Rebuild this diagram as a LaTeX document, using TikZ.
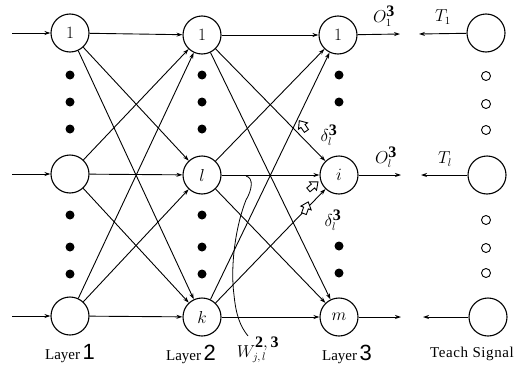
\documentclass[tikz,border=0pt]{standalone}
\usepackage{fontspec}
\setmainfont{Liberation Serif}
\newfontfamily\digitfont{Liberation Sans}
\usetikzlibrary{arrows.meta}
\begin{document}
\begin{tikzpicture}[x=1pt,y=-1pt,
  neuron/.style={draw,circle,line width=1.1pt,minimum size=38pt,inner sep=0pt,font=\fontsize{18}{18}\selectfont},
  conn/.style={line width=0.9pt,-{Stealth[length=6pt,width=4pt]}},
  fdot/.style={fill=black,circle,inner sep=0pt,minimum size=9pt},
  hdot/.style={draw,circle,line width=0.9pt,inner sep=0pt,minimum size=9pt},
  lbl/.style={font=\fontsize{16}{16}\selectfont,inner sep=1pt},
  laylbl/.style={font=\fontsize{15}{15}\selectfont},
  harrow/.pic={\draw[line width=0.9pt,fill=white] (-6,2.5) -- (0,2.5) -- (0,5.5) -- (6.5,0) -- (0,-5.5) -- (0,-2.5) -- (-6,-2.5) -- cycle;}]
\useasboundingbox (0,0) rectangle (532,372);
% layer 1
\node[neuron] (a1) at (70,33) {$1$};
\node[neuron] (a2) at (70,174) {};
\node[neuron] (a3) at (70,316) {};
% layer 2
\node[neuron] (b1) at (202,35) {$1$};
\node[neuron] (b2) at (202,175) {$l$};
\node[neuron] (b3) at (202,317) {$k$};
% layer 3
\node[neuron] (c1) at (338,35) {$1$};
\node[neuron] (c2) at (339,175) {$i$};
\node[neuron] (c3) at (339,317) {$m$};
% teach
\node[neuron] (t1) at (486,33) {};
\node[neuron] (t2) at (487,175) {};
\node[neuron] (t3) at (488,317) {};
% inputs
\coordinate (i1) at (12,33);
\coordinate (i2) at (12,174);
\coordinate (i3) at (12,316);
\draw[conn] (i1) -- (a1);
\draw[conn] (i2) -- (a2);
\draw[conn] (i3) -- (a3);
% connections
\foreach \s in {a1,a2,a3}{\foreach \t in {b1,b2,b3}{\draw[conn] (\s) -- (\t);}}
\foreach \s in {b1,b2,b3}{\foreach \t in {c1,c2,c3}{\draw[conn] (\s) -- (\t);}}
% outputs
\coordinate (o1) at (400,34);
\coordinate (o2) at (401,175);
\coordinate (o3) at (401,317);
\draw[conn] (c1) -- (o1);
\draw[conn] (c2) -- (o2);
\draw[conn] (c3) -- (o3);
\coordinate (u1) at (419,34);
\coordinate (u2) at (421,175);
\coordinate (u3) at (423,317);
\draw[conn] (t1) -- (u1);
\draw[conn] (t2) -- (u2);
\draw[conn] (t3) -- (u3);
% dots
\foreach \x in {70,202}{
  \foreach \y in {75,102,129,215,247,274}{\node[fdot] at (\x,\y) {};}}
\foreach \y in {75,102,246,273}{\node[fdot] at (339,\y) {};}
\foreach \y in {76,104,130,220,248,273}{\node[hdot] at (486,\y) {};}
% labels
\node[lbl] (lo1) at (384,16) {$O_1^{\textstyle\mathbf{3}}$};
\node[lbl] (lo2) at (386,157) {$O_l^{\textstyle\mathbf{3}}$};
\node[lbl] (lt1) at (443,17) {$T_1$};
\node[lbl] (lt2) at (445,159) {$T_l$};
\node[lbl] (ld1) at (329,135) {$\delta_l^{\textstyle\mathbf{3}}$};
\node[lbl] (ld2) at (333,220) {$\delta_l^{\textstyle\mathbf{3}}$};
\node[lbl] (lw) at (258,350) {$W_{j,\,l}^{\textstyle\mathbf{2,3}}$};
% hollow arrows
\pic[rotate=125] at (303,126) {harrow};
\pic[rotate=70] at (306,208) {harrow};
\pic[rotate=40] at (313,186) {harrow};
% W curve
\coordinate (w0) at (246,176);
\coordinate (w1) at (248,336);
\draw[line width=0.8pt] (w0) .. controls (254,178) and (252,190) .. (246,200)
  .. controls (236,225) and (230,265) .. (234,295)
  .. controls (236,315) and (240,326) .. (w1);
% layer labels
\node[laylbl] (L1) at (70,354) {Layer\,{\digitfont\fontsize{22}{22}\selectfont 1}};
\node[laylbl] (L2) at (191,354) {Layer\,{\digitfont\fontsize{22}{22}\selectfont 2}};
\node[laylbl] (L3) at (347,354) {Layer\,{\digitfont\fontsize{22}{22}\selectfont 3}};
\node[laylbl] (L4) at (472,354) {\addfontfeatures{LetterSpace=4}Teach Signal};
\end{tikzpicture}
\end{document}
